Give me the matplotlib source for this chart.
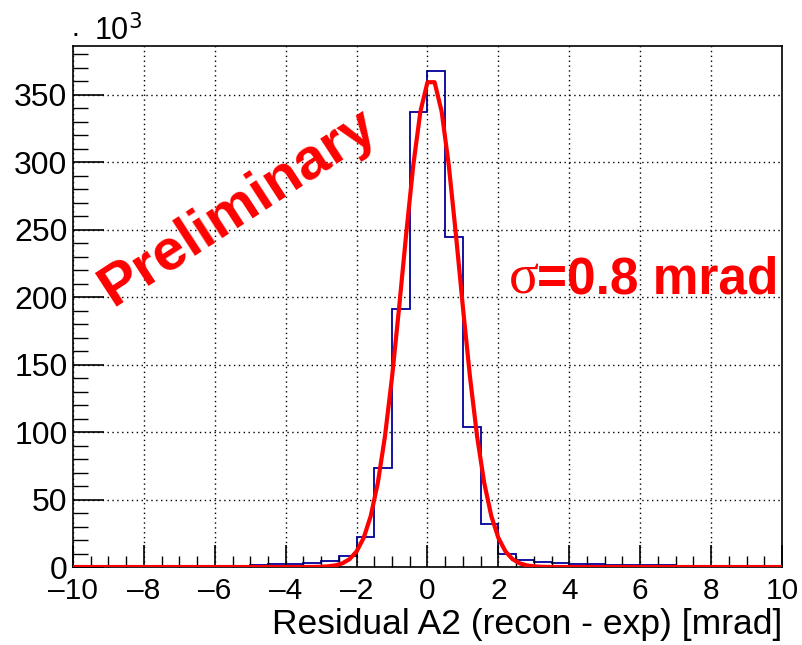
import numpy as np
import matplotlib
matplotlib.use("Agg")
import matplotlib.pyplot as plt
from matplotlib.ticker import MultipleLocator

# histogram: 0.5 mrad bins from -10 to 10, contents in units of 10^3
edges = np.arange(-10, 10.01, 0.5)
counts = [0.4, 0.4, 0.5, 0.5, 0.6, 0.6, 0.7, 0.8, 0.9, 1.0,
          1.5, 2.0, 2.5, 3.0, 4.4, 8.0, 22.5, 73.0, 191.0, 337.0,
          367.5, 244.5, 104.0, 32.0, 10.0, 5.0, 3.5, 2.7, 2.2, 2.0,
          1.8, 1.6, 1.4, 1.2, 1.0, 0.9, 0.8, 0.7, 0.6, 0.5]

# gaussian fit parameters (constant [10^3], mean, sigma [mrad])
fit_const = 362.0
fit_mean = 0.1
fit_sigma = 0.8

x_ticks = [-10, -8, -6, -4, -2, 0, 2, 4, 6, 8, 10]
y_ticks = [0, 50, 100, 150, 200, 250, 300, 350]

plt.rcParams['font.family'] = ['Liberation Sans', 'DejaVu Sans']

fig = plt.figure(figsize=(8.03, 6.45), dpi=100)
ax = fig.add_axes([0.0909, 0.1209, 0.9738 - 0.0909, 0.9287 - 0.1209])

ax.stairs(counts, edges, color='#000099', lw=1.3, baseline=0)

# fit curve sampled like a TF1 (100 segments)
xf = np.linspace(-10, 10, 101)
yf = fit_const * np.exp(-0.5 * ((xf - fit_mean) / fit_sigma) ** 2)
ax.plot(xf, yf, color='red', lw=3, zorder=5)

ax.set_xlim(-10, 10)
ax.set_ylim(0, 386)
ax.set_xticks(x_ticks)
ax.set_xticklabels([str(v).replace('-', '\u2013') for v in x_ticks])
ax.set_yticks(y_ticks)
ax.xaxis.set_minor_locator(MultipleLocator(0.5))
ax.yaxis.set_minor_locator(MultipleLocator(10))
ax.tick_params(which='major', axis='x', direction='in', length=16, width=1.2, labelsize=21.5, pad=7)
ax.tick_params(which='minor', axis='x', direction='in', length=8, width=1.0)
ax.tick_params(which='major', axis='y', direction='in', length=22, width=1.2, labelsize=23, pad=4)
ax.tick_params(which='minor', axis='y', direction='in', length=11, width=1.0)
ax.grid(True, which='major', color='black', linestyle=(0, (1, 2.5)), lw=1.0)
for s in ax.spines.values():
    s.set_linewidth(1.2)

ax.set_xlabel('Residual A2 (recon - exp) [mrad]', fontsize=25.5, loc='right', labelpad=2)

fig.text(0.094, 0.948, '\u00b7', fontsize=21, ha='center', va='center')
fig.text(0.117, 0.937, r'10$^{3}$', fontsize=22, ha='left', va='baseline')

ax.text(0.232, 0.69, 'Preliminary', transform=ax.transAxes, fontsize=42,
        fontweight='bold', color='red', rotation=33, ha='center', va='center')

# sigma label: serif sigma + bold sans text
t_main = ax.text(0.995, 0.524, '=0.8 mrad', transform=ax.transAxes, fontsize=37,
                 fontweight='bold', color='red', ha='right', va='baseline')
fig.canvas.draw()
bb = t_main.get_window_extent().transformed(ax.transAxes.inverted())
ax.text(bb.x0 + 0.003, 0.524, '\u03c3', transform=ax.transAxes, fontsize=40,
        family='Liberation Serif', color='red', ha='right', va='baseline')

fig.savefig('out.png', dpi=100)
